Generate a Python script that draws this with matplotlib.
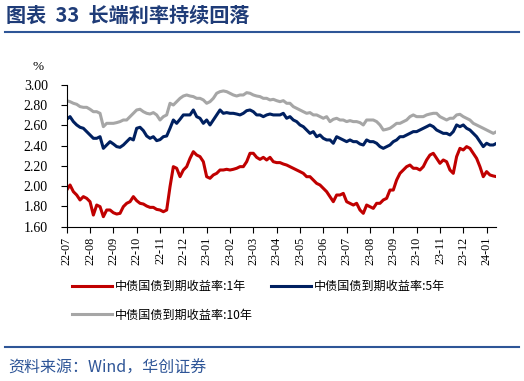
import numpy as np
import matplotlib
matplotlib.use('Agg')
import matplotlib.pyplot as plt
from matplotlib.lines import Line2D

# 中债国债到期收益率（%），約1/7か月ごとに読み取った値
y1 = [1.962, 2.012, 1.946, 1.913, 1.864, 1.897, 1.880, 1.847, 1.715, 1.814,
      1.798, 1.699, 1.765, 1.765, 1.738, 1.725, 1.732, 1.798, 1.831, 1.847,
      1.897, 1.857, 1.831, 1.824, 1.804, 1.791, 1.791, 1.771, 1.765, 1.748,
      1.765, 1.995, 2.193, 2.177, 2.094, 2.160, 2.193,
      2.275, 2.341, 2.308, 2.292, 2.242, 2.094, 2.078, 2.111, 2.127, 2.160,
      2.160, 2.167, 2.160, 2.167, 2.177, 2.193, 2.193, 2.242, 2.325, 2.325,
      2.285, 2.265, 2.285, 2.259, 2.285, 2.242, 2.233, 2.233, 2.219, 2.209,
      2.193, 2.177, 2.160, 2.144, 2.127, 2.094, 2.094, 2.061, 2.028, 2.012,
      1.979, 1.946, 1.897, 1.847, 1.913, 1.913, 1.929,
      1.847, 1.831, 1.814, 1.831, 1.765, 1.732, 1.814, 1.798, 1.781, 1.831,
      1.831, 1.864, 1.880, 1.962, 1.962, 2.061, 2.127, 2.160, 2.193, 2.209,
      2.177, 2.177, 2.160, 2.193, 2.259, 2.308, 2.325, 2.275, 2.226, 2.259,
      2.242, 2.160, 2.127, 2.292, 2.374, 2.358, 2.391, 2.374, 2.325, 2.275,
      2.193, 2.094, 2.144, 2.111, 2.101, 2.094]

y5 = [2.661, 2.687, 2.638, 2.605, 2.582, 2.572, 2.539, 2.506, 2.473, 2.473,
      2.489, 2.374, 2.407, 2.440, 2.417, 2.391, 2.384, 2.407, 2.440, 2.473,
      2.457, 2.572, 2.582, 2.549, 2.496, 2.473, 2.489, 2.450, 2.460, 2.489,
      2.496, 2.572, 2.654, 2.621, 2.661, 2.704, 2.704,
      2.704, 2.753, 2.687, 2.671, 2.621, 2.654, 2.605, 2.654, 2.704, 2.753,
      2.720, 2.727, 2.720, 2.720, 2.713, 2.704, 2.720, 2.746, 2.753, 2.736,
      2.704, 2.704, 2.687, 2.704, 2.713, 2.704, 2.704, 2.704, 2.720, 2.671,
      2.687, 2.654, 2.638, 2.605, 2.588, 2.555, 2.522, 2.539, 2.489, 2.506,
      2.473, 2.457, 2.457, 2.424, 2.489, 2.473, 2.457,
      2.440, 2.457, 2.440, 2.440, 2.417, 2.407, 2.457, 2.440, 2.440, 2.424,
      2.391, 2.374, 2.391, 2.407, 2.440, 2.457, 2.489, 2.489, 2.506, 2.522,
      2.539, 2.539, 2.555, 2.572, 2.588, 2.605, 2.588, 2.555, 2.539, 2.522,
      2.522, 2.506, 2.539, 2.605, 2.588, 2.605, 2.572, 2.555, 2.522, 2.489,
      2.440, 2.391, 2.424, 2.407, 2.407, 2.424]

y10 = [2.845, 2.835, 2.819, 2.809, 2.786, 2.779, 2.779, 2.760, 2.736, 2.736,
       2.720, 2.588, 2.621, 2.621, 2.621, 2.628, 2.638, 2.654, 2.654, 2.687,
       2.720, 2.753, 2.760, 2.736, 2.720, 2.713, 2.727, 2.704, 2.654, 2.687,
       2.704, 2.819, 2.802, 2.835, 2.868, 2.891, 2.901,
       2.891, 2.885, 2.868, 2.868, 2.852, 2.819, 2.835, 2.868, 2.918, 2.934,
       2.941, 2.934, 2.918, 2.901, 2.891, 2.901, 2.901, 2.924, 2.918, 2.901,
       2.891, 2.885, 2.868, 2.868, 2.852, 2.858, 2.845, 2.835, 2.845, 2.819,
       2.819, 2.786, 2.769, 2.753, 2.736, 2.720, 2.727, 2.704, 2.704, 2.687,
       2.671, 2.687, 2.638, 2.661, 2.671, 2.654, 2.654,
       2.638, 2.648, 2.638, 2.638, 2.628, 2.605, 2.654, 2.654, 2.654, 2.638,
       2.605, 2.555, 2.562, 2.572, 2.595, 2.621, 2.621, 2.638, 2.654, 2.687,
       2.704, 2.687, 2.687, 2.687, 2.704, 2.713, 2.720, 2.720, 2.687, 2.671,
       2.654, 2.671, 2.671, 2.704, 2.710, 2.687, 2.671, 2.654, 2.621, 2.605,
       2.588, 2.572, 2.555, 2.539, 2.522, 2.539]

months = ['22-07', '22-08', '22-09', '22-10', '22-11', '22-12', '23-01',
          '23-02', '23-03', '23-04', '23-05', '23-06', '23-07', '23-08',
          '23-09', '23-10', '23-11', '23-12', '24-01']
labels = ['中债国债到期收益率:1年', '中债国债到期收益率:10年', '中债国债到期收益率:5年']

x = np.arange(len(y1)) / 7  # 月単位の位置

fig = plt.figure(figsize=(5.24, 3.81), dpi=100)
ax = fig.add_axes([0.1273, 0.405, 0.8187, 0.372])

l1, = ax.plot(x, y1, color='#C00000', lw=2.2)
l5, = ax.plot(x, y5, color='#002060', lw=2.2)
l10, = ax.plot(x, y10, color='#A6A6A6', lw=2.2, zorder=1)

ax.set_xlim(0, 18.39)
ax.set_ylim(1.6, 3.0)
ax.set_yticks(np.arange(1.6, 3.01, 0.2))
ax.set_yticklabels([f'{v:.2f}' for v in np.arange(1.6, 3.01, 0.2)],
                   family='Liberation Serif', fontsize=10)
ax.set_xticks(range(len(months)))
ax.set_xticklabels(months, rotation=90, family='Liberation Serif', fontsize=8.7)
ax.tick_params(length=4, width=0.8)
ax.tick_params(axis='y', pad=9.5)
ax.tick_params(axis='x', pad=3)
for s in ['top', 'right']:
    ax.spines[s].set_visible(False)

fig.text(0.0725, 0.824, '%', family='Liberation Serif', fontsize=9.5, ha='center', va='center')

# タイトル
fig.text(0.011, 0.96, '图表  33  长端利率持续回落', family=['Noto Sans CJK SC', 'DejaVu Sans'],
         fontsize=14.5, fontweight='bold', color='#1F3C78', va='center')
fig.add_artist(Line2D([0.01, 0.99], [0.916, 0.916], color='#2E5597', lw=1.5))

# 凡例
fig.legend([l1, l10, l5], labels, loc='upper left', bbox_to_anchor=(0.117, 0.293),
           ncol=2, frameon=False, handlelength=3.3, handletextpad=0.25,
           columnspacing=1.5, labelspacing=1.26,
           prop={'family': ['Noto Sans CJK SC', 'DejaVu Sans'], 'size': 8.7})

# 出典
fig.add_artist(Line2D([0.01, 0.99], [0.089, 0.089], color='#2E5597', lw=1.5))
fig.text(0.015, 0.034, '资料来源：Wind，华创证券',
         family=['Noto Sans CJK SC', 'DejaVu Sans'], style='italic',
         fontsize=11.5, color='#2E5597', va='center')

fig.savefig('out.png', dpi=100)
